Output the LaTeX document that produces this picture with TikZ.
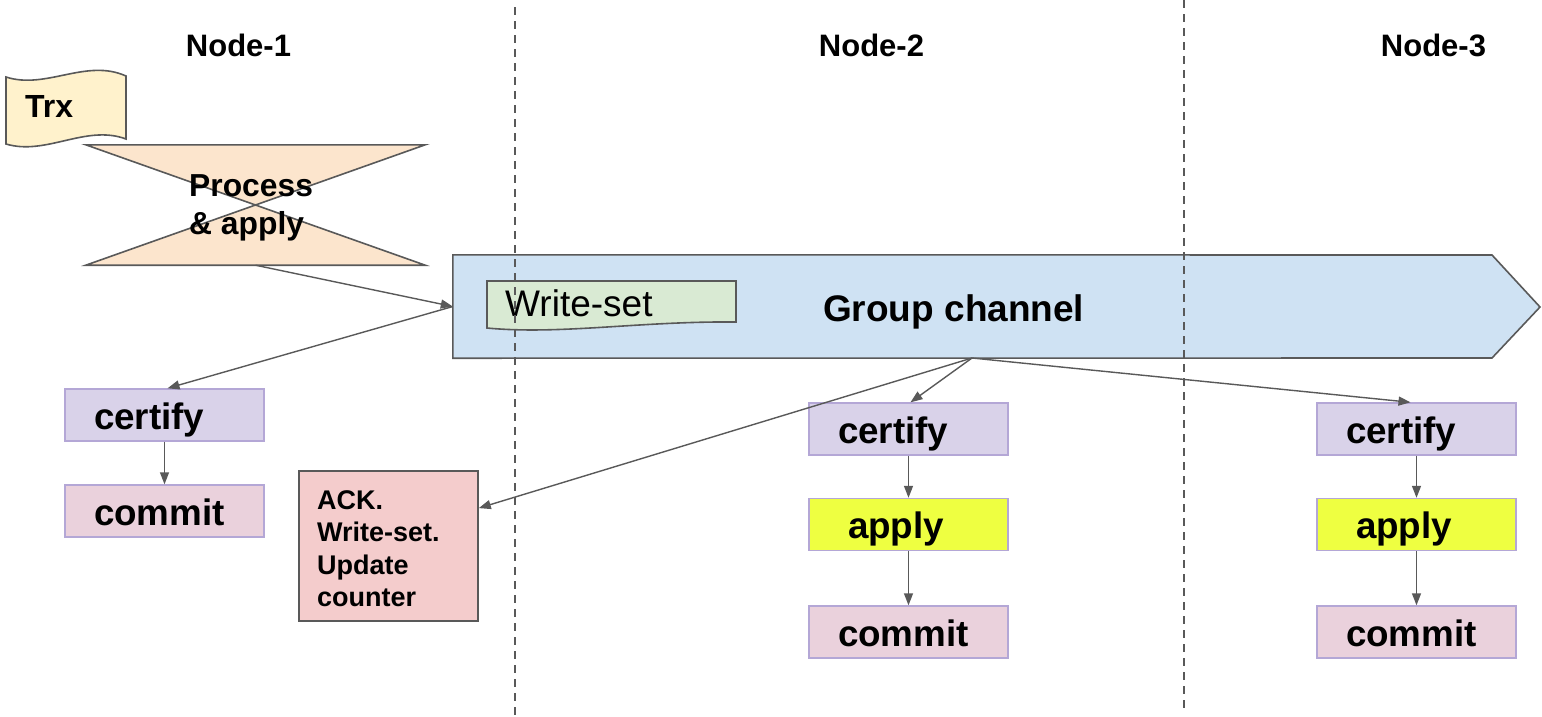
\documentclass[tikz,border=0pt]{standalone}
\usepackage{fontspec}
\setmainfont{Liberation Sans}
\usetikzlibrary{arrows.meta,calc}

\definecolor{ln}{HTML}{595959}
\definecolor{boxln}{HTML}{B4A7D6}
\definecolor{trxfill}{HTML}{FFF2CC}
\definecolor{procfill}{HTML}{FCE5CD}
\definecolor{chanfill}{HTML}{CFE2F3}
\definecolor{wsfill}{HTML}{D9EAD3}
\definecolor{certfill}{HTML}{D9D2E9}
\definecolor{commitfill}{HTML}{EAD1DC}
\definecolor{applyfill}{HTML}{EEFF41}
\definecolor{ackfill}{HTML}{F4CCCC}

\tikzset{
  header/.style={anchor=base, inner sep=0pt, font=\fontsize{31}{36}\selectfont\bfseries},
  shapeline/.style={draw=ln, line width=1.6pt, line join=miter},
  conn/.style={draw=ln, line width=1.4pt, -{Triangle[length=12pt,width=9pt]}},
  stage/.style={draw=boxln, line width=1.4pt, minimum width=199pt, minimum height=52pt,
    inner xsep=29pt, inner ysep=0pt, text width=141pt, align=left,
    text height=33pt, text depth=5pt, font=\fontsize{36.8}{40}\selectfont\bfseries},
  certbox/.style={stage, fill=certfill},
  commitbox/.style={stage, fill=commitfill},
  applybox/.style={stage, fill=applyfill, inner xsep=39pt, text width=121pt},
  divider/.style={draw=ln, line width=2pt, dash pattern=on 8pt off 6pt},
}

\begin{document}
\begin{tikzpicture}[x=1pt,y=-1pt]
\useasboundingbox (0,0) rectangle (1542,716);

% column titles
\node[header] (h1) at (238.5,56) {Node-1};
\node[header] (h2) at (871.5,56) {Node-2};
\node[header] (h3) at (1433.5,56) {Node-3};

% transaction (wave shape)
\draw[shapeline, fill=trxfill]
  (6,77) .. controls (46,90) and (86,58) .. (126,76)
  -- (126,139) .. controls (86,124) and (46,156) .. (6,144) -- cycle;
\node[anchor=base west, inner sep=0pt, font=\fontsize{32}{36}\selectfont\bfseries] (trx) at (25,117) {Trx};

% process & apply (collate shape)
\node[minimum width=339pt, minimum height=120pt, inner sep=0pt] (proc) at (255.5,205) {};
\fill[procfill] (proc.north west) -- (proc.north east) -- (proc.center) -- cycle;
\fill[procfill] (proc.south west) -- (proc.south east) -- (proc.center) -- cycle;
\draw[shapeline] (proc.north west) -- (proc.north east) -- (proc.south west)
  -- (proc.south east) -- cycle;
\node[anchor=north west, inner sep=0pt, align=left,
  font=\fontsize{31.8}{38}\selectfont\bfseries] (proctext) at (189,174) {Process\\\& apply};

% group channel (arrow-shaped band)
\node[minimum width=1039pt, minimum height=103pt, inner sep=0pt] (gc) at (972.5,306.5) {};
\draw[shapeline, fill=chanfill] (gc.north west) -- (1492,255) -- (1540,307) -- (1492,358)
  -- (gc.south west) -- cycle;
\coordinate (gcW) at (gc.west);
\coordinate (gcS) at (972,358);
\node[anchor=base west, inner sep=0pt, font=\fontsize{37}{42}\selectfont\bfseries] (gctext) at (823,321) {Group channel};

% write-set (document shape)
\draw[shapeline, fill=wsfill] (487,281) -- (736,281) -- (736,322)
  .. controls (640,321) and (560,335) .. (487,328) -- cycle;
\node[anchor=base west, inner sep=0pt, font=\fontsize{37}{42}\selectfont] (wstext) at (505,316) {Write-set};

% Node-1 stages
\node[certbox] (c1) at (164.5,415) {certify};
\node[commitbox] (m1) at (164.5,511) {commit};

% acknowledgement box
\node[draw=ln, line width=1.6pt, fill=ackfill, minimum width=179pt, minimum height=150pt, inner sep=0pt]
  (ack) at (388.5,546) {};
\node[anchor=north west, inner sep=0pt, align=left,
  font=\fontsize{27}{32.5}\selectfont\bfseries] (acktext) at (317,490)
  {ACK.\\Write-set.\\Update\\counter};

% Node-2 stages
\node[certbox] (c2) at (908.5,429) {certify};
\node[applybox] (a2) at (908.5,524.5) {apply};
\node[commitbox] (m2) at (908.5,632) {commit};

% Node-3 stages
\node[certbox] (c3) at (1416.5,429) {certify};
\node[applybox] (a3) at (1416.5,524.5) {apply};
\node[commitbox] (m3) at (1416.5,632) {commit};

% connectors
\draw[conn] (proc.south) -- (gcW);
\draw[conn] (gcW) -- ([xshift=3pt]c1.north);
\draw[conn] (c1.south) -- (m1.north);
\draw[conn] (gcS) -- ([xshift=2pt]c2.north);
\draw[conn] (gcS) -- ($(ack.north east)!0.25!(ack.south east)$);
\draw[conn] (gcS) -- ([xshift=-6pt]c3.north);
\draw[conn] (c2.south) -- (a2.north);
\draw[conn] (a2.south) -- (m2.north);
\draw[conn] (c3.south) -- (a3.north);
\draw[conn] (a3.south) -- (m3.north);

% column dividers
\coordinate (d1top) at (515,7);
\coordinate (d1bot) at (515,716);
\coordinate (d2top) at (1184,0);
\coordinate (d2bot) at (1184,709);
\draw[divider] (d1top) -- (d1bot);
\draw[divider] (d2top) -- (d2bot);
\end{tikzpicture}
\end{document}
